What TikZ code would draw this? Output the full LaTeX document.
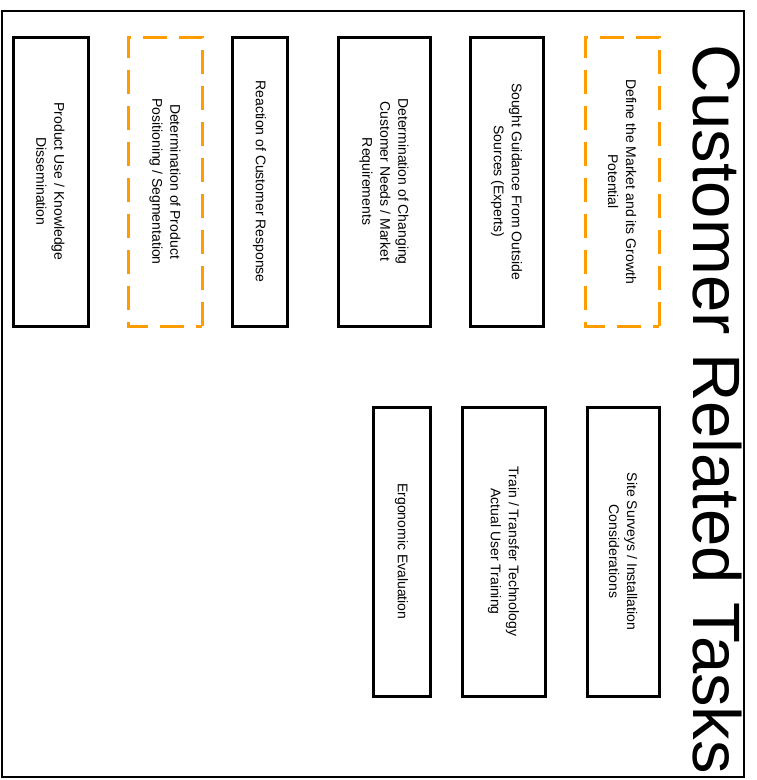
\documentclass[tikz,border=0pt]{standalone}
\usepackage{fontspec}
\setmainfont{Liberation Sans}
\begin{document}
\begin{tikzpicture}[x=1pt, y=-1pt,
  task/.style={draw=black, line width=3pt, rectangle, rotate=-90, inner sep=0pt,
    minimum width=289pt, align=center, text=black,
    font=\fontsize{14}{18}\selectfont},
  plan/.style={task, draw={rgb,255:red,255;green,156;blue,0}, line width=3pt,
    dash pattern=on 24pt off 12pt},
  title/.style={rotate=-90, inner sep=0pt, anchor=base west,
    font=\fontsize{67}{70}\selectfont}]
\useasboundingbox (0,0) rectangle (757,780);

% outer frame
\draw[line width=2pt] (2,11) rectangle (744,777);

% page heading
\node[title] (head) at (693,44) {Customer Related Tasks};

% upper row of tasks
\node[task, minimum height=75pt] (prod) at (50.5,181.5)
  {Product Use / Knowledge\\ Dissemination};
\node[plan, minimum height=74pt] (posit) at (165,181.5)
  {Determination of Product\\ Positioning / Segmentation};
\node[task, minimum height=55pt] (react) at (259.5,181.5)
  {Reaction of Customer Response};
\node[task, minimum height=92pt] (needs) at (384,181.5)
  {Determination of Changing\\ Customer Needs / Market\\ Requirements};
\node[task, minimum height=73pt] (sought) at (506.5,181.5)
  {Sought Guidance From Outside\\ Sources (Experts)};
\node[plan, minimum height=74pt] (market) at (622,181.5)
  {Define the Market and its Growth\\ Potential};

% lower row of tasks
\node[task, minimum height=57pt] (ergo) at (401.5,551.5)
  {Ergonomic Evaluation};
\node[task, minimum height=83pt] (train) at (503.5,551.5)
  {Train / Transfer Technology\\ Actual User Training};
\node[task, minimum height=72pt] (site) at (623,551.5)
  {Site Surveys / Installation\\ Considerations};
\end{tikzpicture}
\end{document}
